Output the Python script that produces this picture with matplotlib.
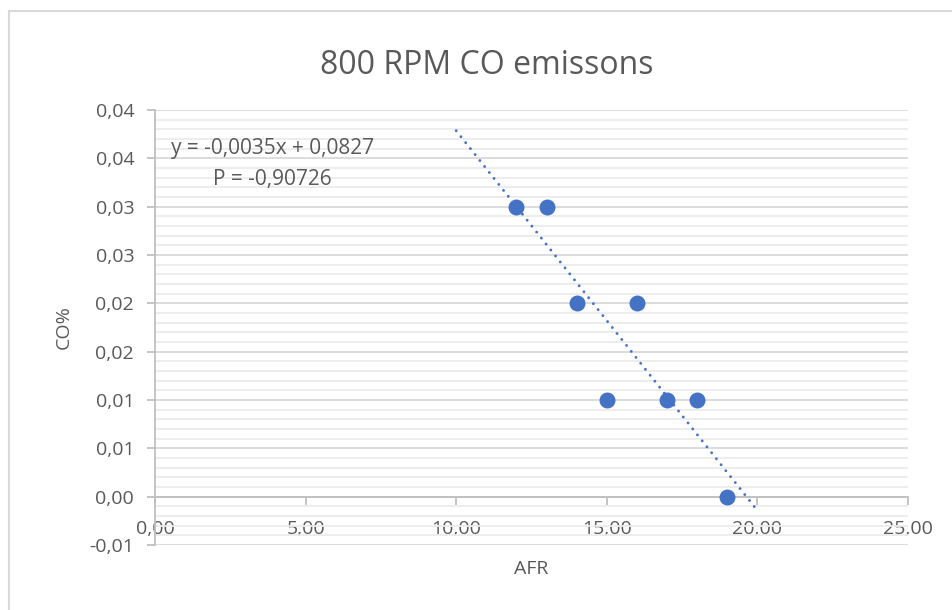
import matplotlib
matplotlib.use("Agg")
import matplotlib.pyplot as plt
import numpy as np
from matplotlib.patches import Rectangle
from matplotlib.ticker import FixedLocator, MultipleLocator

# Dados (AFR x CO%)
afr = [12, 13, 14, 15, 16, 17, 18, 19]
co = [0.03, 0.03, 0.02, 0.01, 0.02, 0.01, 0.01, 0.00]

x_ticks = [0, 5, 10, 15, 20, 25]
x_tick_labels = ["0,00", "5,00", "10,00", "15,00", "20,00", "25,00"]
y_ticks = [-0.005, 0.0, 0.005, 0.01, 0.015, 0.02, 0.025, 0.03, 0.035, 0.04]
y_tick_labels = ["-0,01", "0,00", "0,01", "0,01", "0,02", "0,02",
                 "0,03", "0,03", "0,04", "0,04"]

equation_text = "y = -0,0035x + 0,0827\nP = -0,90726"

# Extensao da linha de tendencia (previsao para tras / para frente)
forecast_back = 2
forecast_fwd = 1

plt.rcParams['font.family'] = ['Open Sans', 'DejaVu Sans']
text_color = "#595959"
axis_color = "#bfbfbf"

fig = plt.figure(figsize=(9.52, 6.10), dpi=100)
ax = fig.add_axes([155 / 952, 1 - 545 / 610, (908 - 155) / 952, (545 - 110) / 610])

# Borda do grafico
fig.patches.append(Rectangle((9 / 952, -0.1), 1.2, 1 - 11 / 610 + 0.1,
                             transform=fig.transFigure, fill=False,
                             edgecolor="#d9d9d9", linewidth=1.5))

# Pontos
ax.scatter(afr, co, s=110, color="#4472C4", zorder=3)

# Linha de tendencia
coef = np.polyfit(afr, co, 1)
x_line = np.array([min(afr) - forecast_back, max(afr) + forecast_fwd])
ax.plot(x_line, np.polyval(coef, x_line), color="#4472C4", linewidth=2.1,
        linestyle=(0, (0.01, 2.6)), dash_capstyle="round", zorder=2)

ax.set_xlim(0, 25)
ax.set_ylim(-0.005, 0.04)

ax.xaxis.set_major_locator(FixedLocator(x_ticks))
ax.set_xticklabels(x_tick_labels)
ax.yaxis.set_major_locator(FixedLocator(y_ticks))
ax.set_yticklabels(y_tick_labels)
ax.yaxis.set_minor_locator(MultipleLocator(0.001))

ax.grid(axis="y", which="major", color="#d9d9d9", linewidth=1.3, zorder=0)
ax.grid(axis="y", which="minor", color="#ececec", linewidth=1.3, zorder=0)
ax.set_axisbelow(True)

for s in ["top", "right"]:
    ax.spines[s].set_visible(False)
ax.spines["bottom"].set_position(("data", 0))
ax.spines["bottom"].set_color(axis_color)
ax.spines["left"].set_color(axis_color)
ax.spines["bottom"].set_linewidth(1.3)
ax.spines["left"].set_linewidth(1.3)

ax.tick_params(axis="both", which="major", labelsize=14, labelcolor=text_color,
               color=axis_color, length=6, width=1.3)
ax.tick_params(axis="y", which="minor", length=0)
ax.tick_params(axis="y", pad=9)
ax.tick_params(axis="x", pad=11)

fig.text(487 / 952, 1 - 66 / 610, "800 RPM CO emissons", fontsize=23,
         color=text_color, ha="center", va="center")
ax.set_xlabel("AFR", fontsize=14, color=text_color, labelpad=16)
ax.set_ylabel("CO%", fontsize=14, color=text_color, labelpad=12)

ax.text(3.9, 0.0371, equation_text, fontsize=15, color=text_color,
        va="top", ha="center", multialignment="center", linespacing=1.6)

fig.savefig("out.png", dpi=100)
